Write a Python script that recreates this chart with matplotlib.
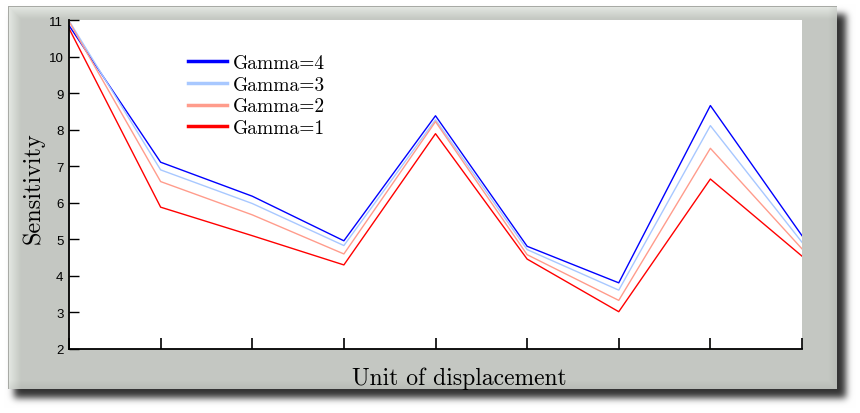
import numpy as np
import matplotlib
matplotlib.use('Agg')
import matplotlib.pyplot as plt

# ---- data ----
x_pos = [0, 1, 2, 3, 4, 5, 6, 7, 8]
gamma4 = [10.85, 7.11, 6.18, 4.96, 8.38, 4.81, 3.81, 8.66, 5.10]
gamma3 = [10.98, 6.90, 5.98, 4.83, 8.27, 4.72, 3.61, 8.11, 4.92]
gamma2 = [10.96, 6.58, 5.67, 4.60, 8.22, 4.58, 3.33, 7.49, 4.74]
gamma1 = [10.77, 5.88, 5.10, 4.30, 7.89, 4.46, 3.02, 6.65, 4.54]
series_labels = ['Gamma=4', 'Gamma=3', 'Gamma=2', 'Gamma=1']
series_colors = ['#0000FF', '#A8C8FF', '#FF9C8C', '#FF0000']
y_ticks = [2, 3, 4, 5, 6, 7, 8, 9, 10, 11]

W, H = 860, 414
fig = plt.figure(figsize=(W / 100, H / 100), dpi=100)
fig.patch.set_facecolor('white')

# ---- decorative background panel with bevel and drop shadow ----
bg = fig.add_axes([0, 0, 1, 1])
bg.set_axis_off()
yy, xx = np.mgrid[0:H, 0:W] + 0.5

def box(x0, x1, y0, y1):
    return ((xx >= x0) & (xx < x1) & (yy >= y0) & (yy < y1)).astype(float)

def blur(a, s):
    r = int(3 * s)
    k = np.exp(-0.5 * (np.arange(-r, r + 1) / s) ** 2)
    k /= k.sum()
    a = np.apply_along_axis(lambda v: np.convolve(v, k, mode='same'), 1, a)
    a = np.apply_along_axis(lambda v: np.convolve(v, k, mode='same'), 0, a)
    return a

shadow = blur(box(14, 846, 15, 399), 3.5)
img = np.ones((H, W, 3)) * (1 - 0.80 * shadow)[..., None]

panel = box(8, 837, 7, 390) > 0
base = np.array([0.769, 0.784, 0.761])
light = np.array([0.90, 0.915, 0.895])
t = np.clip(1 - (yy - 7) / 13, 0, 1)
l = np.clip(1 - (xx - 8) / 13, 0, 1)
lf = np.maximum(t, l)[..., None]
col = base + (light - base) * lf
d = np.clip(1 - (390 - yy) / 9, 0, 1)
r = np.clip(1 - (837 - xx) / 9, 0, 1)
col = col * (1 - 0.06 * np.maximum(d, r))[..., None]
img[panel] = col[panel]
edge = (box(8, 837, 7, 8) + box(8, 9, 7, 390)) > 0
img[edge] = [0.66, 0.67, 0.65]
bg.imshow(img, extent=(0, W, H, 0), aspect='auto', interpolation='nearest')
bg.set_xlim(0, W)
bg.set_ylim(H, 0)

# ---- main axes ----
ax = fig.add_axes([69 / W, (H - 350) / H, 733 / W, 329 / H])
ax.set_facecolor('white')
for vals, lab, c in zip([gamma4, gamma3, gamma2, gamma1], series_labels, series_colors):
    ax.plot(x_pos, vals, color=c, lw=1.0, label=lab)

ax.set_xlim(x_pos[0], x_pos[-1])
ax.set_ylim(y_ticks[0], y_ticks[-1])
ax.set_xticks(x_pos)
ax.set_xticklabels([])
ax.set_yticks(y_ticks)
ax.set_yticklabels([str(v) for v in y_ticks], family='Liberation Sans', fontsize=9.5)
ax.tick_params(axis='x', direction='in', length=8, width=1.2, color='black')
ax.tick_params(axis='y', direction='in', length=7, width=1.0, color='black', pad=4)
for s in ['top', 'right']:
    ax.spines[s].set_visible(False)
for s in ['left', 'bottom']:
    ax.spines[s].set_linewidth(1.3)

ax.set_xlabel('Unit of displacement', family='cmr10', fontsize=17)
ax.xaxis.label.set_va('baseline')
ax.xaxis.set_label_coords((459 - 69) / 733, (350 - 385) / 329)
ax.set_ylabel('Sensitivity', family='cmr10', fontsize=17.5)
ax.yaxis.label.set_va('center')
ax.yaxis.set_label_coords((33 - 69) / 733, (350 - 188) / 329)

leg = ax.legend(loc='upper left', bbox_to_anchor=((180 - 69) / 733, (350 - 47) / 329),
                frameon=False, prop={'family': 'cmr10', 'size': 14},
                handlelength=2.0, handletextpad=0.3, labelspacing=0.2, borderaxespad=0)
for ln in leg.get_lines():
    ln.set_linewidth(2.5)

fig.savefig('out.png', dpi=100, facecolor='white')
